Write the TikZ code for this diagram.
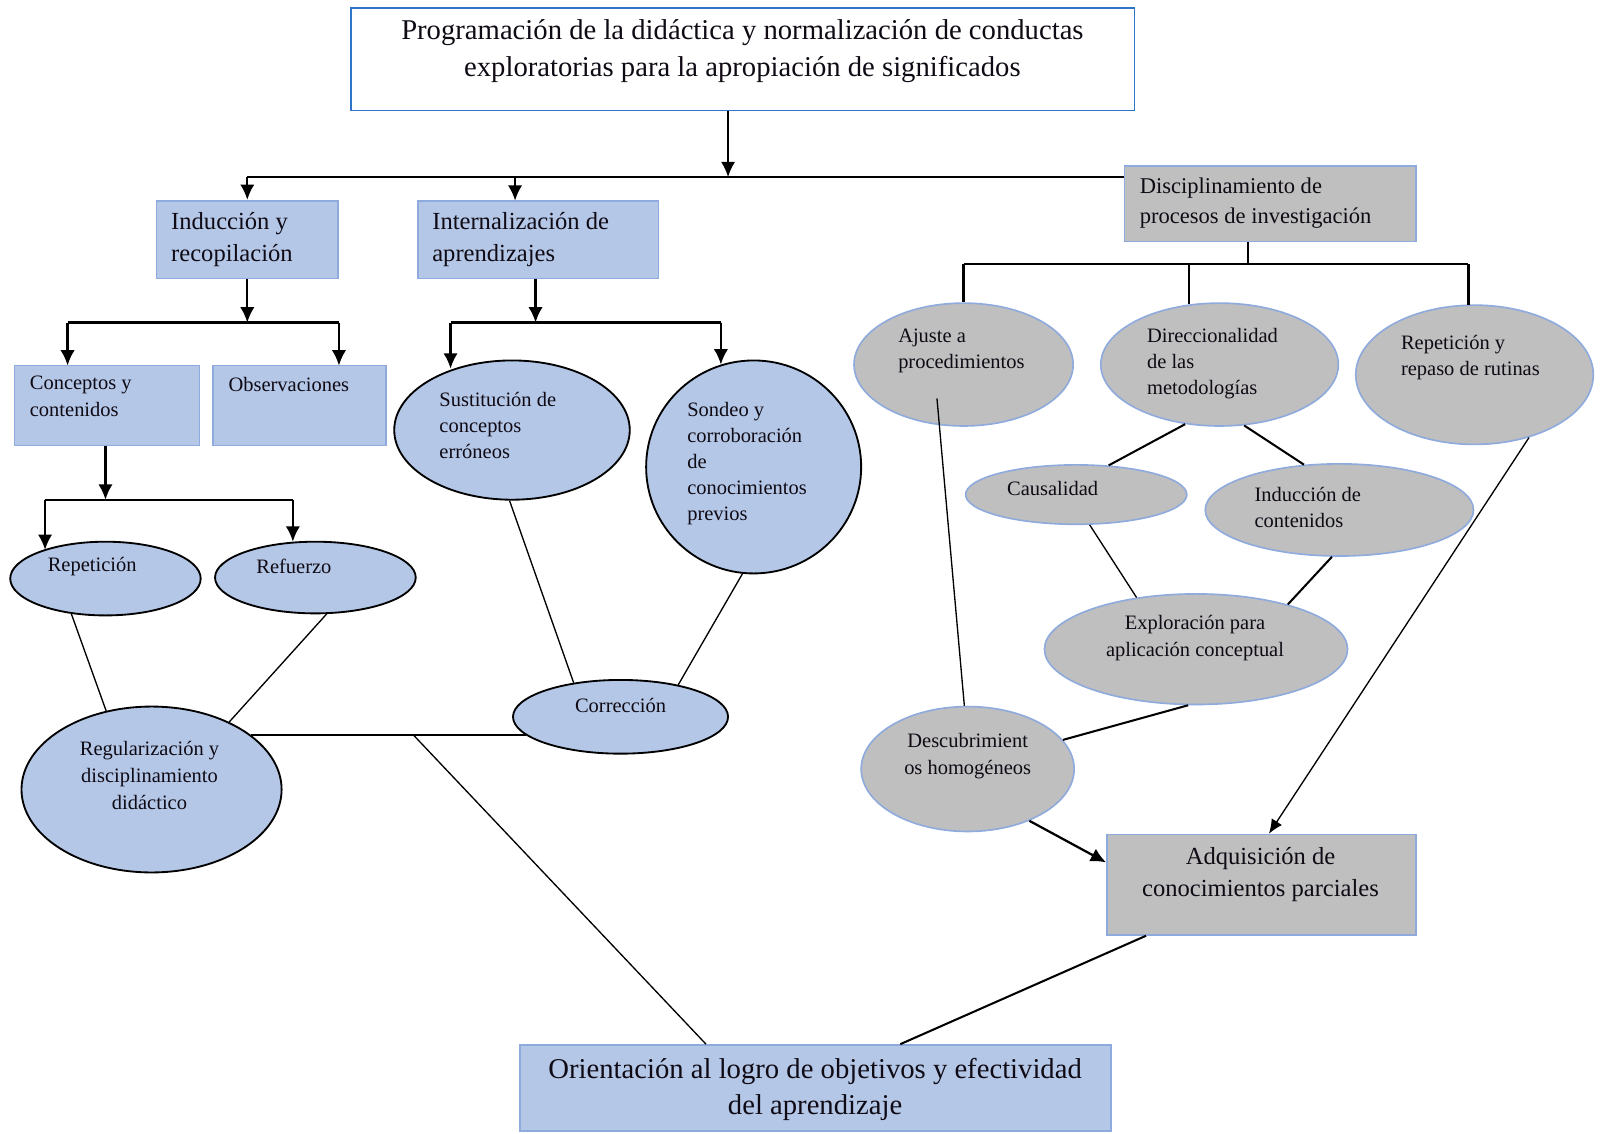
\documentclass[tikz,border=0pt]{standalone}
\usepackage{fontspec}
\setmainfont{Liberation Serif}
\usetikzlibrary{shapes.geometric,arrows.meta,calc}
\definecolor{bfill}{RGB}{180,199,231}
\definecolor{bline}{RGB}{143,170,220}
\definecolor{gfill}{RGB}{191,191,191}
\definecolor{tline}{RGB}{46,117,200}
\definecolor{ink}{RGB}{15,10,20}
\begin{document}
\begin{tikzpicture}[x=1pt,y=-1pt,
  titlebox/.style={rectangle,draw=tline,fill=white,line width=1.6pt,inner sep=0},
  bluebox/.style={rectangle,draw=bline,fill=bfill,line width=1.6pt,inner sep=0},
  graybox/.style={rectangle,draw=bline,fill=gfill,line width=1.6pt,inner sep=0},
  blueell/.style={ellipse,draw=black,fill=bfill,line width=1.8pt,inner sep=0},
  grayell/.style={ellipse,draw=bline,fill=gfill,line width=1.6pt,inner sep=0},
  treeline/.style={line width=2.2pt},
  arr/.style={line width=2.2pt,-{Latex[length=15pt,width=14pt]}},
  thinarr/.style={line width=1.3pt,-{Latex[length=14pt,width=12pt]}},
  conn/.style={line width=1.3pt},
  mconn/.style={line width=2pt},
  txtA/.style={text=ink,inner sep=0,align=center,font=\fontsize{28}{36}\selectfont},
  txtB/.style={text=ink,inner sep=0,align=left,font=\fontsize{24}{31}\selectfont},
  txtBc/.style={text=ink,inner sep=0,align=center,font=\fontsize{24}{32}\selectfont},
  txtD/.style={text=ink,inner sep=0,align=left,font=\fontsize{22}{29}\selectfont},
  txtC/.style={text=ink,inner sep=0,align=left,font=\fontsize{20}{25.5}\selectfont},
  txtCc/.style={text=ink,inner sep=0,align=center,font=\fontsize{20}{26.5}\selectfont}
]
\useasboundingbox (0,0) rectangle (1563.5,1106.5);

% ---------- nodes ----------
\node[titlebox,minimum width=765pt,minimum height=100pt] (title) at (725.5,58) {};
\node[txtA] (titletxt) at (725,50) {Programación de la didáctica y normalización de conductas\\exploratorias para la apropiación de significados};

\node[bluebox,minimum width=177pt,minimum height=76pt] (ind) at (241.5,234) {};
\node[txtB,anchor=west] (indtxt) at (167,234) {Inducción y\\recopilación};
\node[bluebox,minimum width=235pt,minimum height=76pt] (intl) at (525.5,234) {};
\node[txtB,anchor=west] (intltxt) at (422,234) {Internalización de\\aprendizajes};
\node[graybox,minimum width=285pt,minimum height=74pt] (disc) at (1240.5,199) {};
\node[txtD,anchor=west] (disctxt) at (1113,198.5) {Disciplinamiento de\\procesos de investigación};

\node[bluebox,minimum width=181pt,minimum height=78pt] (conc) at (104.5,396) {};
\node[txtC,anchor=west] (conctxt) at (29,387) {Conceptos y\\contenidos};
\node[bluebox,minimum width=169pt,minimum height=78pt] (obs) at (292.5,396) {};
\node[txtC,anchor=west] (obstxt) at (223,375) {Observaciones};

\node[blueell,minimum width=186pt,minimum height=72pt] (rep) at (103,565) {};
\node[txtCc] (reptxt) at (90,553) {Repetición};
\node[blueell,minimum width=196pt,minimum height=70pt] (ref) at (308,564) {};
\node[txtCc] (reftxt) at (287,553) {Refuerzo};
\node[blueell,minimum width=254pt,minimum height=162pt] (reg) at (148,771) {};
\node[txtCc] (regtxt) at (146,757) {Regularización y\\disciplinamiento\\didáctico};

\node[blueell,minimum width=230pt,minimum height=136pt] (sus) at (500,420) {};
\node[txtC,anchor=west] (sustxt) at (429,415.5) {Sustitución de\\conceptos\\erróneos};
\node[blueell,minimum width=210pt,minimum height=208pt] (son) at (736,456) {};
\node[txtC,anchor=west] (sontxt) at (671,452.5) {Sondeo y\\corroboración\\de\\conocimientos\\previos};
\node[blueell,minimum width=210pt,minimum height=72pt] (corr) at (606,700) {};
\node[txtCc] (corrtxt) at (606,689) {Corrección};

\node[grayell,minimum width=214pt,minimum height=120pt] (ajus) at (941,356) {};
\node[txtC,anchor=west] (ajustxt) at (877,342.5) {Ajuste a\\procedimientos};
\node[grayell,minimum width=232pt,minimum height=120pt] (dirc) at (1191,356) {};
\node[txtC,anchor=west] (dirctxt) at (1120,355) {Direccionalidad\\de las\\metodologías};
\node[grayell,minimum width=232pt,minimum height=136pt] (rrep) at (1440,366) {};
\node[txtC,anchor=west] (rreptxt) at (1368,349.5) {Repetición y\\repaso de rutinas};
\node[grayell,minimum width=216pt,minimum height=58pt] (caus) at (1051,483) {};
\node[txtCc] (caustxt) at (1028,477) {Causalidad};
\node[grayell,minimum width=262pt,minimum height=90pt] (indc) at (1308,498) {};
\node[txtC,anchor=west] (indctxt) at (1225,495.5) {Inducción de\\contenidos};
\node[grayell,minimum width=296pt,minimum height=108pt] (expl) at (1168,634) {};
\node[txtCc] (expltxt) at (1167,623.5) {Exploración para\\aplicación conceptual};
\node[grayell,minimum width=208pt,minimum height=122pt] (desc) at (945,751) {};
\node[txtCc] (desctxt) at (945,738.5) {Descubrimient\\os homogéneos};

\node[graybox,minimum width=302pt,minimum height=98pt] (adq) at (1232,864) {};
\node[txtBc] (adqtxt) at (1231,854) {Adquisición de\\conocimientos parciales};
\node[bluebox,minimum width=577pt,minimum height=84pt] (orient) at (796.5,1062.5) {};
\node[txtA,font=\fontsize{28}{35}\selectfont] (orienttxt) at (796,1064) {Orientación al logro de objetivos y efectividad\\del aprendizaje};

% ---------- tree connectors ----------
\coordinate (jTop) at (711,173);
\draw[arr] (title.south -| jTop) -- (jTop);
\draw[treeline] (jTop -| ind.north) -- (disc.west |- jTop);
\draw[arr] (jTop -| ind.north) -- (ind.north);
\coordinate (jIntl) at (503,196);
\draw[arr] (jTop -| jIntl) -- (jIntl);

\coordinate (jInd) at (241.5,315);
\draw[arr] (ind.south) -- (jInd);
\coordinate (cTop) at (66,357);
\coordinate (oTop) at (331,357);
\draw[treeline] (jInd -| cTop) -- (jInd -| oTop);
\draw[arr] (jInd -| cTop) -- (cTop);
\draw[arr] (jInd -| oTop) -- (oTop);

\coordinate (jConc) at (103,488);
\coordinate (rTop) at (44,537);
\coordinate (fTop) at (286,529);
\draw[arr] (jConc |- conc.south) -- (jConc);
\draw[treeline] (jConc -| rTop) -- (jConc -| fTop);
\draw[arr] (jConc -| rTop) -- (rTop);
\draw[arr] (jConc -| fTop) -- (fTop);

\coordinate (jIn) at (523,315);
\coordinate (sTop) at (440,360);
\coordinate (nTop) at (704,356);
\draw[arr] (jIn |- intl.south) -- (jIn);
\draw[treeline] (jIn -| sTop) -- (jIn -| nTop);
\draw[arr] (jIn -| sTop) -- (sTop);
\draw[arr] (jIn -| nTop) -- (nTop);

\coordinate (jDisc) at (1219,258);
\coordinate (dTop) at (1161,297);
\coordinate (rrTop) at (1434,298);
\draw[treeline] (jDisc |- disc.south) -- (jDisc);
\draw[treeline] (jDisc -| ajus.north) -- (jDisc -| rrTop);
\draw[treeline] (jDisc -| ajus.north) -- (ajus.north);
\draw[treeline] (jDisc -| dTop) -- (dTop);
\draw[treeline] (jDisc -| rrTop) -- (rrTop);

% ---------- left network ----------
\draw[conn] (rep.-134) -- (reg.120);
\draw[conn] (ref.-73) -- (reg.41);
\draw[mconn] (reg.29) -- (reg.29 -| corr.-169);
\coordinate (jReg) at (403,717);
\draw[conn] (jReg) -- ($(orient.north west)!0.315!(orient.north east)$);
\draw[conn] (sus.-92) -- (corr.144);
\draw[conn] (son.-96) -- (corr.29);

% ---------- right network ----------
\draw[mconn] (dirc.-120) -- (caus.42);
\draw[mconn] (dirc.-68) -- (indc.128);
\draw[conn] (caus.-66) -- (expl.139);
\draw[mconn] (indc.-99) -- (expl.26);
\draw[conn] ($(ajus.center)+(-26,33)$) -- (desc.93);
\draw[mconn] (expl.-98) -- (desc.17);
\draw[arr] (desc.-40) -- ($(adq.north west)+(0,28)$);
\draw[thinarr] (rrep.-49) -- ($(adq.north west)+(159,0)$);
\draw[mconn] ($(adq.south west)+(39,0)$) -- ($(orient.north west)+(372,0)$);
\end{tikzpicture}
\end{document}
